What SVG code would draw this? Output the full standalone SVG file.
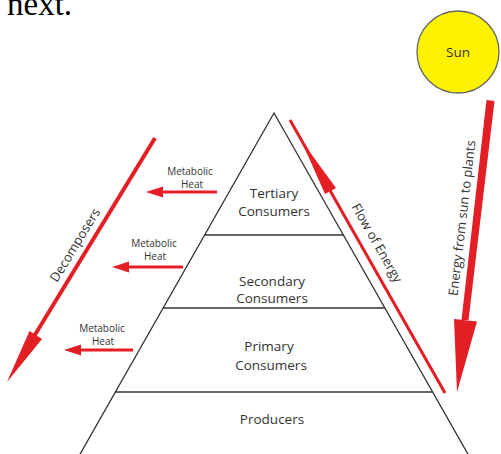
<svg xmlns="http://www.w3.org/2000/svg" width="501" height="454" viewBox="0 0 501 454">
<style>
.lbl{font-family:"Open Sans","Liberation Sans",sans-serif;font-size:13.5px;fill:#333;text-anchor:middle}
.sm{font-family:"Open Sans","Liberation Sans",sans-serif;font-size:10px;fill:#333;text-anchor:middle}
.rl{font-family:"Open Sans","Liberation Sans",sans-serif;font-size:13px;fill:#333;text-anchor:middle}
.ln{stroke:#333;stroke-width:1.3;fill:none}
.red{stroke:#e31e24;fill:none}
.rf{fill:#e31e24}
</style>
<rect width="501" height="454" fill="#fff"/>
<text x="7" y="14.5" font-family="'Liberation Serif',serif" font-size="33" fill="#000">next.</text>

<g id="sun">
<ellipse cx="458" cy="52" rx="41" ry="41" fill="#fff200" stroke="#666" stroke-width="1.3"/>
<text class="lbl" x="458" y="57" font-size="13">Sun</text>
</g>

<g id="pyramid">
<path class="ln" d="M79,456 L274,113 L469,456"/>
</g>
<g id="tertiary">
<line class="ln" x1="204.5" y1="235" x2="343.5" y2="235"/>
<text class="lbl" x="274" y="198">Tertiary</text>
<text class="lbl" x="274" y="216">Consumers</text>
</g>
<g id="secondary">
<line class="ln" x1="163" y1="308" x2="385" y2="308"/>
<text class="lbl" x="272" y="286">Secondary</text>
<text class="lbl" x="272" y="303">Consumers</text>
</g>
<g id="primary">
<line class="ln" x1="115" y1="392" x2="433" y2="392"/>
<text class="lbl" x="269" y="351">Primary</text>
<text class="lbl" x="271" y="370">Consumers</text>
</g>
<g id="producers">
<text class="lbl" x="272" y="424">Producers</text>
</g>

<g id="connectors">
<!-- flow of energy -->
<line class="red" x1="290" y1="120" x2="445" y2="393" stroke-width="3"/>
<polygon class="rf" points="301,140 336,188 325,194"/>
<!-- sun to plants -->
<polygon class="rf" points="486.5,100 494.5,101 468.5,320 461.5,320"/>
<polygon class="rf" points="454,319 477,321.5 457,392"/>
<!-- decomposers -->
<line class="red" x1="155" y1="138" x2="33" y2="338" stroke-width="4"/>
<polygon class="rf" points="7,382 29.5,331 42,339"/>
<!-- metabolic heat -->
<line class="red" x1="217" y1="192" x2="158" y2="192" stroke-width="3"/>
<polygon class="rf" points="146,192 163,186.5 163,197.5"/>
<line class="red" x1="183" y1="267" x2="124" y2="267" stroke-width="3"/>
<polygon class="rf" points="112,267 129,261.5 129,272.5"/>
<line class="red" x1="133" y1="350" x2="76" y2="350" stroke-width="3"/>
<polygon class="rf" points="64,350 81,344.5 81,355.5"/>
</g>

<g id="labels">
<text class="rl" transform="translate(377,243) rotate(60.4)" y="4.5">Flow of Energy</text>
<text class="rl" transform="translate(462,218) rotate(-83.4)" y="4.5">Energy from sun to plants</text>
<text class="rl" transform="translate(75,245) rotate(-58.5)" y="4.5">Decomposers</text>
<text class="sm" x="190" y="175">Metabolic</text>
<text class="sm" x="192" y="188">Heat</text>
<text class="sm" x="154" y="247">Metabolic</text>
<text class="sm" x="155" y="260">Heat</text>
<text class="sm" x="102" y="332">Metabolic</text>
<text class="sm" x="103" y="345">Heat</text>
</g>
</svg>
